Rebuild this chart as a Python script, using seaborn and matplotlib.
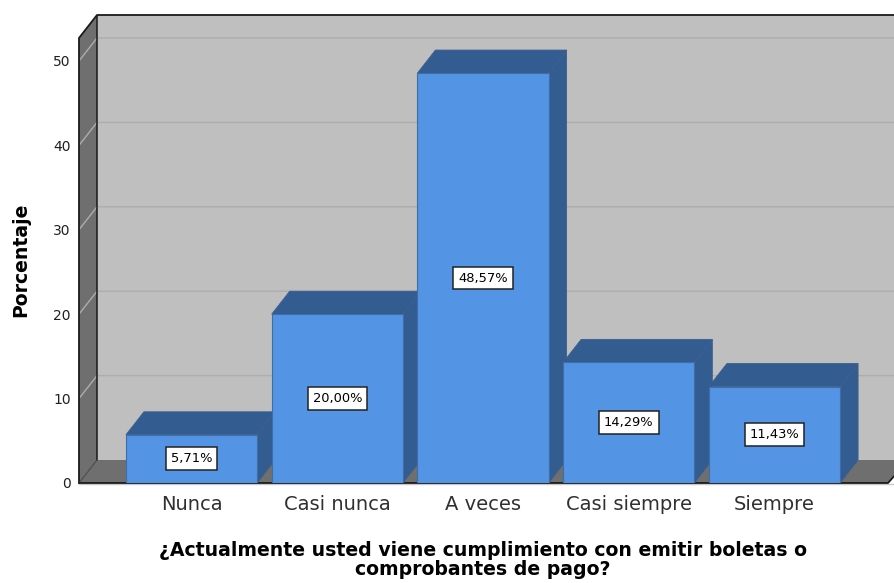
import matplotlib
matplotlib.use('Agg')
import matplotlib.pyplot as plt
from matplotlib.patches import Polygon
import seaborn as sns

categorias = ['Nunca', 'Casi nunca', 'A veces', 'Casi siempre', 'Siempre']
porcentajes = [5.71, 20.00, 48.57, 14.29, 11.43]
marcas_y = [0, 10, 20, 30, 40, 50]

AZUL = '#5394e4'
AZUL_OSC = '#335c91'
PARED = '#bfbfbf'
OSCURO = '#6f6f6f'

sns.set_theme(style='white')
plt.rcParams['font.family'] = ['DejaVu Sans']

W, H = 894, 583
fig = plt.figure(figsize=(W / 100, H / 100), dpi=100)
# eje frontal: x 79-894, y 483-15 en pixeles
ax = fig.add_axes([79 / W, 1 - 483 / H, (W - 79) / W, (483 - 15) / H])

sns.barplot(x=categorias, y=porcentajes, color=AZUL, saturation=1, width=0.9,
            edgecolor='#3d6ea8', linewidth=0.8, ax=ax, zorder=5)

ax.set_xlim(-0.772, 4.82)
ax.set_ylim(0, 468 / 8.44)

# profundidad 3D en unidades de datos
dx = 18 / 145.75
dy = 23 / 8.44
x0, x1 = ax.get_xlim()
y1 = ax.get_ylim()[1]

# paredes y piso
ax.add_patch(Polygon([(x0 + dx, dy), (x1, dy), (x1, y1), (x0 + dx, y1)], fc=PARED, ec='none', zorder=1))
ax.add_patch(Polygon([(x0, 0), (x0 + dx, dy), (x0 + dx, y1), (x0, y1 - dy)], fc=OSCURO, ec='none', zorder=1))
ax.add_patch(Polygon([(x0, 0), (x0 + dx, dy), (x1, dy), (x1, 0.8), (x1 - 6 / 145.75, 0)], fc=OSCURO, ec='none', zorder=1))

# lineas de rejilla
for m in marcas_y[1:]:
    ax.plot([x0, x0 + dx, x1], [m, m + dy, m + dy], color='#adadad', lw=1, zorder=2)

# bordes
ax.plot([x0, x0, x0 + dx, x1], [0, y1 - dy, y1, y1], color='#1a1a1a', lw=1.3, zorder=3, clip_on=False)
ax.plot([x0 + dx, x0 + dx], [dy, y1], color='#1a1a1a', lw=1.1, zorder=3)
ax.plot([x0, x0 + dx], [0, dy], color='#4a4a4a', lw=0.8, zorder=3)
ax.plot([x0, x1 - 6 / 145.75, x1], [0, 0, 0.8], color='#1a1a1a', lw=1.3, zorder=3, clip_on=False)
ax.axhline(-0.15, color='#c8c8c8', lw=1, zorder=2, clip_on=False)

# caras superior y lateral de cada barra
for i, b in enumerate(ax.containers[0]):
    l, r, t = b.get_x(), b.get_x() + b.get_width(), b.get_height()
    z = 4 + i * 0.1
    ax.add_patch(Polygon([(l, t), (l + dx, t + dy), (r + dx, t + dy), (r, t)],
                         fc=AZUL_OSC, ec='#3d5f8c', lw=0.6, zorder=z))
    ax.add_patch(Polygon([(r, 0), (r + dx, dy), (r + dx, t + dy), (r, t)],
                         fc=AZUL_OSC, ec='#3d5f8c', lw=0.6, zorder=z))

etiquetas = ['{:.2f}%'.format(v).replace('.', ',') for v in porcentajes]
for txt in ax.bar_label(ax.containers[0], labels=etiquetas, label_type='center', fontsize=9.4,
                        color='black', zorder=7,
                        bbox=dict(boxstyle='square,pad=0.38', fc='white', ec='#222222', lw=1.1)):
    txt.set_zorder(7)

for s in ax.spines.values():
    s.set_visible(False)
ax.set_yticks(marcas_y)
ax.set_yticklabels([str(m) for m in marcas_y], fontsize=10, color='#202020')
ax.tick_params(axis='y', length=0, pad=6, left=False)
ax.tick_params(axis='x', length=0, pad=9, labelsize=14, labelcolor='#303030')
ax.grid(False)

fig.text(21 / W, 1 - 260 / H, 'Porcentaje', rotation=90, ha='center', va='center',
         fontsize=13.6, fontweight='bold', color='black')
fig.text(483 / W, 1 - 560 / H, '¿Actualmente usted viene cumplimiento con emitir boletas o\ncomprobantes de pago?',
         ha='center', va='center', fontsize=13.6, fontweight='bold', color='black', linespacing=1.05)

fig.savefig('out.png', dpi=100, facecolor='white')
